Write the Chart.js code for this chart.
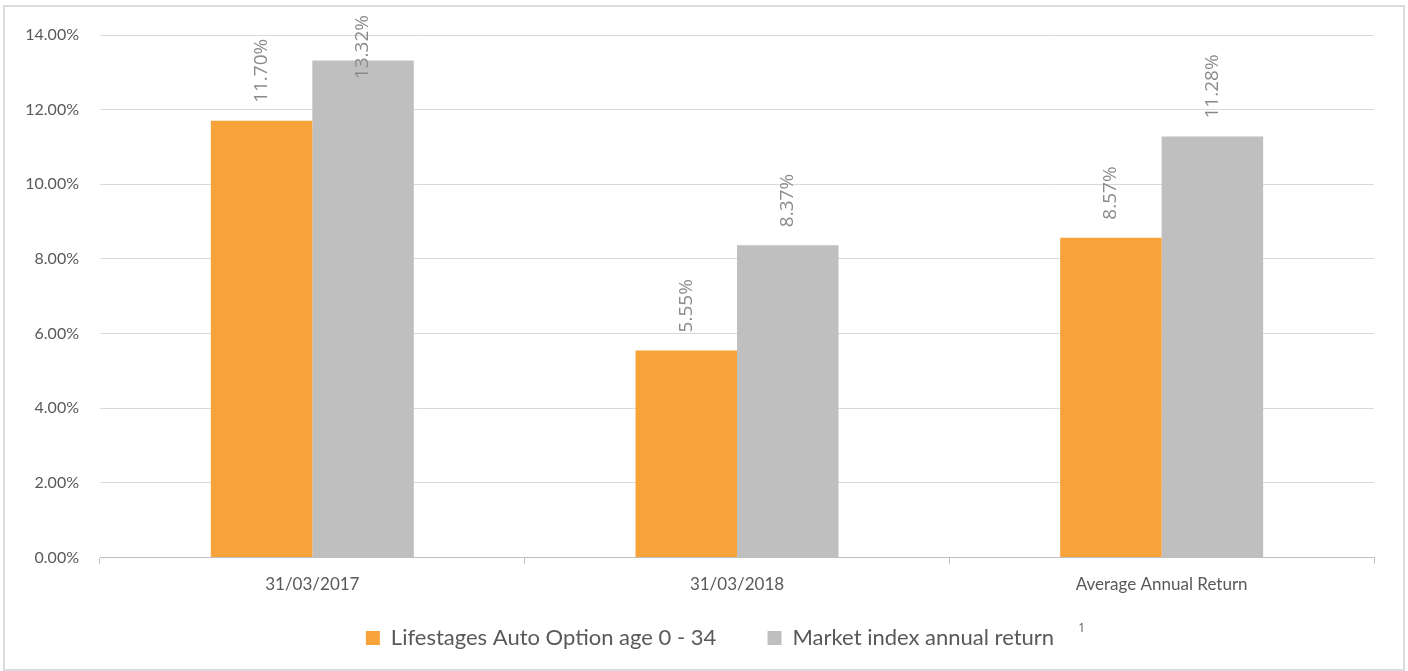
<!DOCTYPE html>
<html>
<head>
<meta charset="utf-8">
<script src="https://cdn.jsdelivr.net/npm/chart.js@4"></script>
<style>
  body { margin: 0; background: #fff; }
  #wrap {
    position: absolute; left: 3px; top: 5px;
    width: 1398px; height: 662px;
    border: 2px solid #dcdcdc;
  }
</style>
</head>
<body>
<div id="wrap"><canvas id="chart"></canvas></div>
<script>
const categories = ['31/03/2017', '31/03/2018', 'Average Annual Return'];
const lifestagesReturns = [11.70, 5.55, 8.57];
const marketReturns = [13.32, 8.37, 11.28];
const seriesNames = ['Lifestages Auto Option age 0 - 34', 'Market index annual return'];
const yTicks = [0, 2, 4, 6, 8, 10, 12, 14];

// value labels, turned on their side above each bar (pushed down if they'd leave the canvas)
const labelPlugin = {
    id: 'barLabels',
    afterDatasetsDraw(chart) {
        const ctx = chart.ctx;
        ctx.save();
        ctx.font = '19px "Open Sans"';
        ctx.fillStyle = '#8a8a8a';
        ctx.textAlign = 'left';
        ctx.textBaseline = 'middle';
        chart.data.datasets.forEach((ds, i) => {
            chart.getDatasetMeta(i).data.forEach((bar, j) => {
                const text = ds.data[j].toFixed(2) + '%';
                const w = ctx.measureText(text).width;
                let start = bar.y - 18;
                if (start - w < 8) start = 8 + w;
                ctx.save();
                ctx.translate(bar.x, start);
                ctx.rotate(-Math.PI / 2);
                ctx.fillText(text, 0, 0);
                ctx.restore();
            });
        });
        ctx.restore();
    }
};

// nudge the legend a bit right and put the footnote marker after its last entry
const footnotePlugin = {
    id: 'footnote',
    afterLayout(chart) {
        chart.legend.left += 41;
    },
    afterDraw(chart) {
        const boxes = chart.legend.legendHitBoxes;
        if (!boxes || !boxes.length) return;
        const last = boxes[boxes.length - 1];
        const ctx = chart.ctx;
        ctx.save();
        ctx.font = '12px "Open Sans"';
        ctx.fillStyle = '#595959';
        ctx.textBaseline = 'middle';
        ctx.fillText('1', last.left + last.width + 24, last.top + 2);
        ctx.restore();
    }
};

new Chart(document.getElementById('chart'), {
    type: 'bar',
    data: {
        labels: categories,
        datasets: [{
            label: seriesNames[0],
            data: lifestagesReturns,
            backgroundColor: '#F8A33A',
            categoryPercentage: 0.478,
            barPercentage: 1
        }, {
            label: seriesNames[1],
            data: marketReturns,
            backgroundColor: '#BFBFBF',
            categoryPercentage: 0.478,
            barPercentage: 1
        }]
    },
    options: {
        responsive: true,
        maintainAspectRatio: false,
        animation: false,
        layout: {
            padding: { top: 28, right: 29, bottom: 10, left: 0 }
        },
        plugins: {
            tooltip: { enabled: false },
            legend: {
                position: 'bottom',
                labels: {
                    color: '#595959',
                    font: { family: 'Lato', size: 22 },
                    boxWidth: 14,
                    boxHeight: 14,
                    padding: 21,
                    generateLabels(chart) {
                        const items = Chart.defaults.plugins.legend.labels.generateLabels(chart);
                        items.forEach((it, i) => {
                            if (i < items.length - 1) it.text += '\u2003\u2002\u2009';
                        });
                        return items;
                    }
                }
            }
        },
        scales: {
            x: {
                grid: {
                    offset: true,
                    drawOnChartArea: false,
                    drawTicks: true,
                    tickLength: 6,
                    color: '#bfbfbf'
                },
                border: { display: true, color: '#bfbfbf' },
                ticks: {
                    color: '#595959',
                    font: { family: 'Lato', size: 17 },
                    padding: 11
                }
            },
            y: {
                min: 0,
                max: 14,
                afterFit(scale) {
                    scale.width = 95;
                    scale.paddingTop = 0;
                },
                afterBuildTicks(scale) { scale.ticks = yTicks.map(v => ({ value: v })); },
                grid: { color: '#d9d9d9', drawTicks: false },
                border: { display: false },
                ticks: {
                    color: '#595959',
                    font: { family: 'Lato', size: 16 },
                    padding: 21,
                    callback: v => v.toFixed(2) + '%'
                }
            }
        }
    },
    plugins: [labelPlugin, footnotePlugin]
});
</script>
</body>
</html>
